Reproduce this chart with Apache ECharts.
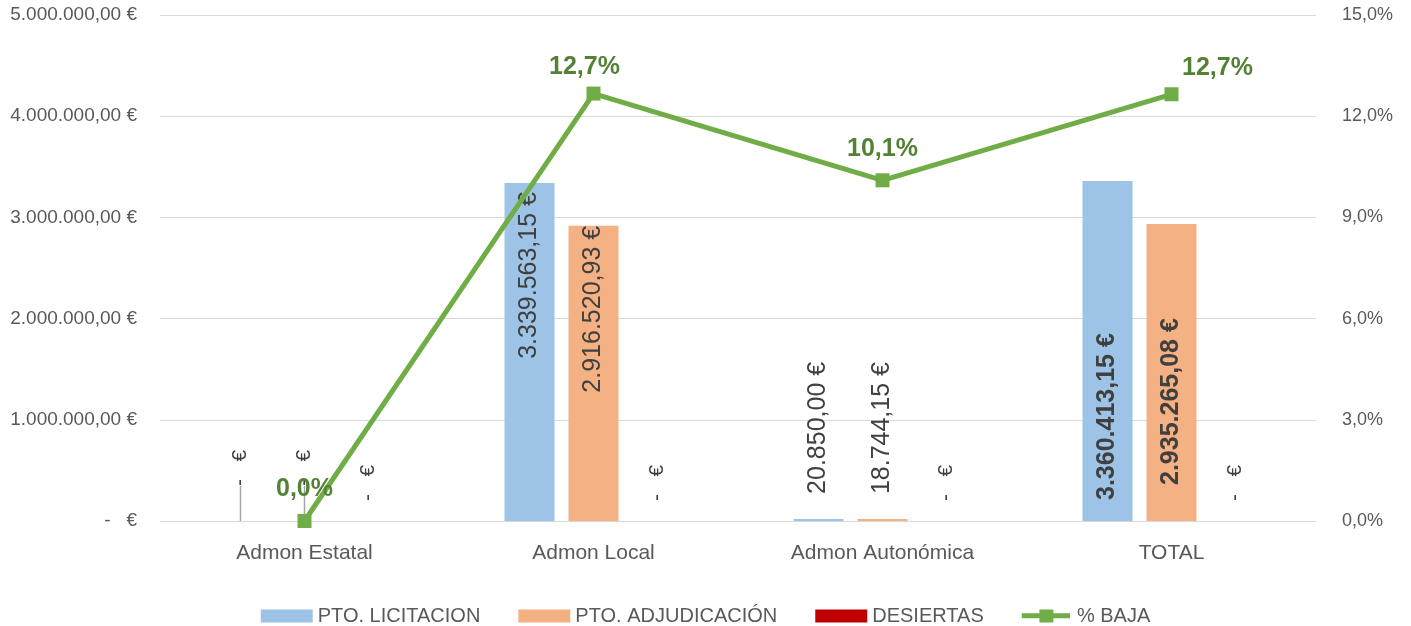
<!DOCTYPE html>
<html><head><meta charset="utf-8">
<script src="https://cdn.jsdelivr.net/npm/echarts@6/dist/echarts.min.js"></script>
<style>html,body{margin:0;padding:0;background:#fff}#c{width:1411px;height:626px}</style>
</head><body><div id="c"></div>
<script>
const categories = ['Admon Estatal', 'Admon Local', 'Admon Autonómica', 'TOTAL'];
const licitacion = [0, 3339563.15, 20850.00, 3360413.15];
const adjudicacion = [0, 2916520.93, 18744.15, 2935265.08];
const desiertas = [0, 0, 0, 0];
const baja = [0.000, 0.1267, 0.1010, 0.1265];
const leftTicks = [0, 1000000, 2000000, 3000000, 4000000, 5000000];
const rightTicks = [0, 0.03, 0.06, 0.09, 0.12, 0.15];

const FONT = 'Liberation Sans';
function fmtNum(v, dec) {
  const fixed = Math.abs(v).toFixed(dec);
  let [ip, dp] = fixed.split('.');
  ip = ip.replace(/\B(?=(\d{3})+(?!\d))/g, '.');
  return (v < 0 ? '-' : '') + ip + (dp ? ',' + dp : '');
}
function fmtEur(v) { return v === 0 ? '-   €' : fmtNum(v, 2) + ' €'; }

const baseLabel = { show: true, rotate: 90, color: '#404040', fontFamily: FONT, fontSize: 25, verticalAlign: 'middle', formatter: p => fmtEur(p.value) };
const leader = { show: true, lineStyle: { color: '#A6A6A6', width: 1.5 } };
const noLeader = { show: false };
// per-category label placement (style only)
function labelFor(seriesIdx, ci, v) {
  if (v === 0) {
    return Object.assign({}, baseLabel, { position: 'top', align: 'left', distance: 20, fontSize: 21 });
  }
  if (ci === 1) return Object.assign({}, baseLabel, { position: 'insideTop', align: 'right', distance: seriesIdx === 0 ? 9 : 0 });
  if (ci === 2) return Object.assign({}, baseLabel, { position: 'top', align: 'left', distance: 25 });
  if (ci === 3) return Object.assign({}, baseLabel, { position: 'insideBottom', align: 'left', fontWeight: 'bold', distance: seriesIdx === 0 ? 21 : 36 });
  return baseLabel;
}
function barData(arr, si, withLeader) {
  return arr.map((v, i) => ({ value: v, label: labelFor(si, i, v), labelLine: (withLeader && i === 0) ? leader : noLeader }));
}
const lineLabelStyle = [
  { distance: 12, offset: [0, 0] },
  { distance: 7, offset: [-9, 0] },
  { distance: 12, offset: [0, 0] },
  { distance: 7, offset: [46, 0] }
];
// label offsets are in the rotated label frame: dx moves the label up on screen
const estatalLayout = p => p.dataIndex === 0 ? { dx: 15, dy: 0 } : null;

const chart = echarts.init(document.getElementById('c'));
chart.setOption({
  animation: false,
  textStyle: { fontFamily: FONT },
  grid: { left: 160, right: 95, top: 15, bottom: 105, containLabel: false },
  legend: {
    top: 601, left: 'center', itemWidth: 52, itemHeight: 13, itemGap: 38,
    textStyle: { fontFamily: FONT, fontSize: 20, color: '#595959', padding: [0, 0, 0, 0] },
    data: [
      { name: 'PTO. LICITACION', icon: 'rect' },
      { name: 'PTO. ADJUDICACIÓN', icon: 'rect' },
      { name: 'DESIERTAS', icon: 'rect' },
      { name: '% BAJA', icon: 'path://M0,4H19V0H34V4H52V9.5H34V14H19V9.5H0Z', itemStyle: { color: '#70AD47' } }
    ]
  },
  xAxis: {
    type: 'category', data: categories,
    axisLine: { lineStyle: { color: '#D9D9D9', width: 1 } },
    axisTick: { show: false },
    axisLabel: { color: '#595959', fontSize: 21, margin: 22, fontFamily: FONT }
  },
  yAxis: [
    {
      type: 'value', min: 0, max: 5000000, interval: 1000000,
      axisLine: { show: false }, axisTick: { show: false },
      splitLine: { lineStyle: { color: '#D9D9D9', width: 1 } },
      axisLabel: { color: '#595959', fontSize: 19, margin: 23, fontFamily: FONT,
        formatter: v => v === 0 ? '-   €' : fmtNum(v, 2) + ' €' }
    },
    {
      type: 'value', min: 0, max: 0.15, interval: 0.03,
      axisLine: { show: false }, axisTick: { show: false }, splitLine: { show: false },
      axisLabel: { color: '#595959', fontSize: 18, margin: 26, fontFamily: FONT,
        formatter: v => fmtNum(v * 100, 1) + '%' }
    }
  ],
  series: [
    { name: 'PTO. LICITACION', type: 'bar', barWidth: 50, barGap: '28%', itemStyle: { color: '#9DC3E6' },
      data: barData(licitacion, 0, true),
      labelLayout: estatalLayout,
      z: 2 },
    { name: 'PTO. ADJUDICACIÓN', type: 'bar', barWidth: 50, barGap: '28%', itemStyle: { color: '#F4B183' },
      data: barData(adjudicacion, 1, true),
      labelLayout: estatalLayout,
      z: 2 },
    { name: 'DESIERTAS', type: 'bar', barWidth: 50, barGap: '28%', itemStyle: { color: '#C00000' },
      data: barData(desiertas, 2, false), z: 2 },
    { name: '% BAJA', type: 'line', yAxisIndex: 1,
      data: baja.map((v, i) => ({ value: v, label: lineLabelStyle[i] })),
      lineStyle: { color: '#70AD47', width: 5 }, itemStyle: { color: '#70AD47' },
      symbol: 'rect', symbolSize: 14, z: 5,
      label: { show: true, position: 'top', color: '#548235', fontWeight: 'bold', fontSize: 25, fontFamily: FONT,
        formatter: p => fmtNum(p.value * 100, 1) + '%' } }
  ]
});
</script></body></html>
